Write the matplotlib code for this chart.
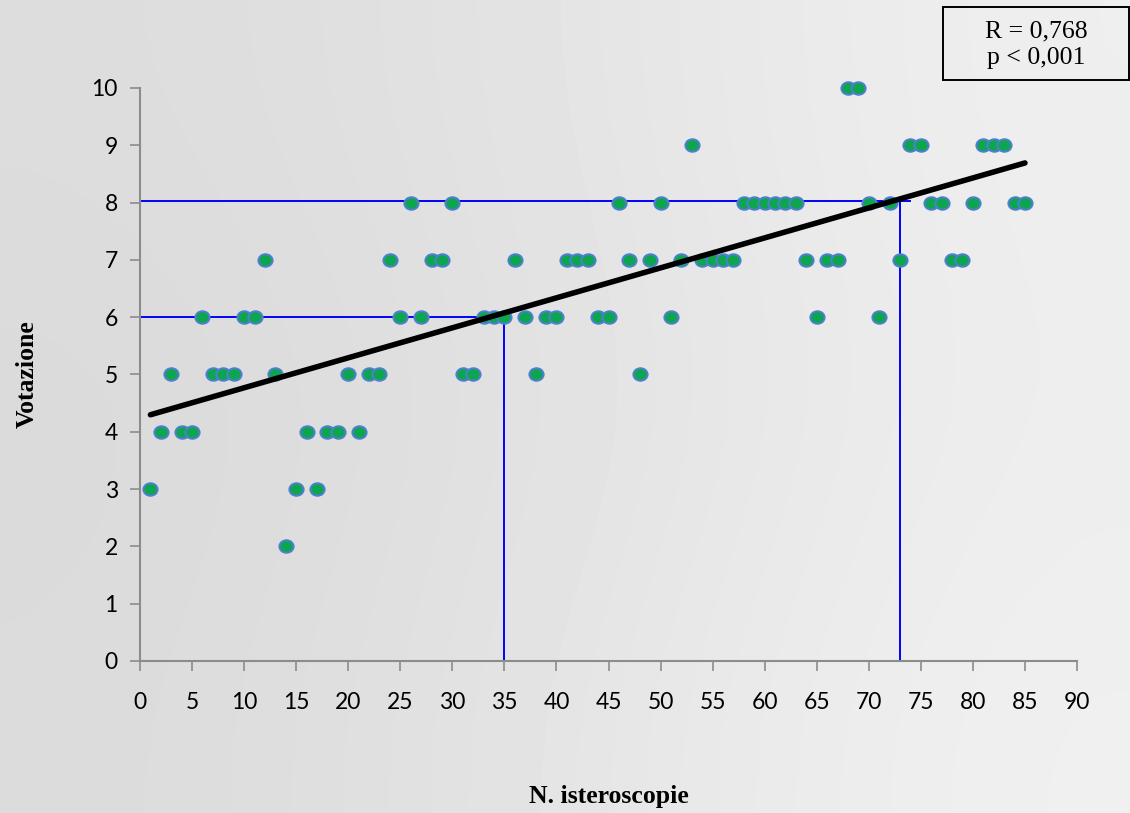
import numpy as np
import matplotlib
matplotlib.use("Agg")
import matplotlib.pyplot as plt
from matplotlib.path import Path
from matplotlib.patches import Rectangle

# numero di isteroscopie eseguite e votazione ottenuta
n_isteroscopie = list(range(1, 86))
votazione = [3, 4, 5, 4, 4, 6, 5, 5, 5, 6,
             6, 7, 5, 2, 3, 4, 3, 4, 4, 5,
             4, 5, 5, 7, 6, 8, 6, 7, 7, 8,
             5, 5, 6, 6, 6, 7, 6, 5, 6, 6,
             7, 7, 7, 6, 6, 8, 7, 5, 7, 8,
             6, 7, 9, 7, 7, 7, 7, 8, 8, 8,
             8, 8, 8, 7, 6, 7, 7, 10, 10, 8,
             6, 8, 7, 9, 9, 8, 8, 7, 7, 8,
             9, 9, 9, 8, 8]

# linee guida (x, y)
guide_1 = (35, 6.0)
guide_2 = (73, 8.03)
guide_2_xend = 74

x_ticks = list(range(0, 95, 5))
y_ticks = list(range(0, 11))

fig = plt.figure(figsize=(11.3, 8.13), dpi=100)

# sfondo grigio chiaro sfumato
bg = fig.add_axes([0, 0, 1, 1], zorder=-10)
grad = np.array([[0.865, 0.88, 0.91, 0.935],
                 [0.855, 0.87, 0.90, 0.93],
                 [0.86, 0.88, 0.915, 0.94]])
bg.imshow(grad, cmap="gray", vmin=0, vmax=1, aspect="auto",
          interpolation="bicubic", extent=[0, 1, 0, 1])
bg.axis("off")

ax = fig.add_axes([0.1239, 0.1870, 0.8292, 0.7048])
ax.patch.set_alpha(0)

x = np.array(n_isteroscopie)
y = np.array(votazione)

# guide lines
ax.plot([0, guide_1[0]], [guide_1[1], guide_1[1]], color="#0000ff", lw=1.4, zorder=2)
ax.plot([guide_1[0], guide_1[0]], [0, guide_1[1]], color="#0000ff", lw=1.4, zorder=2)
ax.plot([0, guide_2_xend], [guide_2[1], guide_2[1]], color="#0000ff", lw=1.4, zorder=2)
ax.plot([guide_2[0], guide_2[0]], [0, guide_2[1]], color="#0000ff", lw=1.4, zorder=2)

# marker leggermente ovale
circ = Path.unit_circle()
oval = Path(circ.vertices * [1.0, 0.88], circ.codes)
ax.scatter(x, y, s=105, marker=oval, facecolor="#0da54f", edgecolor="#4f7fd0",
           linewidth=1.4, zorder=3, clip_on=False)

# retta di regressione
m, q = np.polyfit(x, y, 1)
xr = np.array([x.min(), x.max()])
ax.plot(xr, m * xr + q, color="black", lw=4, solid_capstyle="round", zorder=4)

ax.set_xlim(0, 90)
ax.set_ylim(0, 10)
ax.set_xticks(x_ticks)
ax.set_yticks(y_ticks)
for s in ["top", "right"]:
    ax.spines[s].set_visible(False)
for s in ["left", "bottom"]:
    ax.spines[s].set_color("#8c8c8c")
    ax.spines[s].set_linewidth(1.5)
ax.tick_params(axis="both", colors="#8c8c8c", length=7, width=1.2, direction="out",
               labelcolor="black", labelsize=16.5)
ax.tick_params(axis="x", pad=15)
ax.tick_params(axis="y", pad=9)
for lab in ax.get_xticklabels() + ax.get_yticklabels():
    lab.set_fontfamily("Lato")

ax.set_xlabel("N. isteroscopie", fontsize=18.5, fontweight="bold",
              fontfamily="Liberation Serif", labelpad=52)
ax.set_ylabel("Votazione", fontsize=18.5, fontweight="bold",
              fontfamily="Liberation Serif", labelpad=38)

# riquadro con coefficiente di correlazione
fig.patches.append(Rectangle((0.8345, 0.9016), 0.1646, 0.0898,
                             transform=fig.transFigure, facecolor="none",
                             edgecolor="black", linewidth=1.4))
fig.text(0.9168, 0.9450, "R = 0,768\np < 0,001", ha="center", va="center",
         fontsize=18.5, fontfamily="Liberation Serif", linespacing=1.25)

fig.savefig("out.png", dpi=100)
